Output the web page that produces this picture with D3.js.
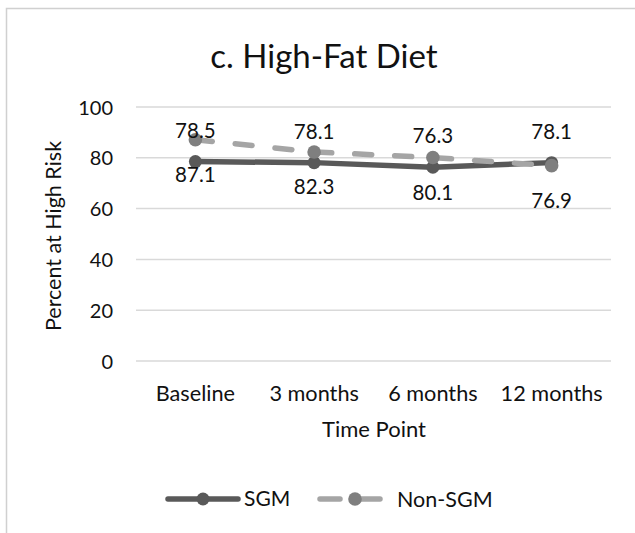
<!DOCTYPE html>
<html><head><meta charset="utf-8">
<script src="https://cdn.jsdelivr.net/npm/d3@7"></script>
<style>body{margin:0;background:#fff}svg{display:block}text{font-family:Lato,"Open Sans",sans-serif;fill:#111}</style>
</head><body>
<script>
const categories = ["Baseline", "3 months", "6 months", "12 months"];
const sgmValues = [78.5, 78.1, 76.3, 78.1];
const nonSgmValues = [87.1, 82.3, 80.1, 76.9];
const yTicks = [0, 20, 40, 60, 80, 100];
const titleText = "c. High-Fat Diet";
const xTitle = "Time Point";
const yTitle = "Percent at High Risk";

const W = 635, H = 533;
const svg = d3.select("body").append("svg").attr("width", W).attr("height", H);
svg.append("rect").attr("x", 6.5).attr("y", 8.5).attr("width", W).attr("height", H)
  .attr("fill", "#fff").attr("stroke", "#d0d0d0").attr("stroke-width", 1.5);

const x = d3.scaleBand().domain(categories).range([136, 611]);
const y = d3.scaleLinear().domain([0, 100]).range([361, 107]);

// gridlines
svg.append("g").selectAll("line").data(yTicks).join("line")
  .attr("x1", 136).attr("x2", 611)
  .attr("y1", d => y(d)).attr("y2", d => y(d))
  .attr("stroke", "#d9d9d9").attr("stroke-width", 1.5);

// y axis labels
const yAxis = d3.axisLeft(y).tickValues(yTicks).tickSize(0).tickPadding(0);
const gy = svg.append("g").attr("transform", "translate(113,0)").call(yAxis);
gy.select(".domain").remove();
gy.selectAll("text").style("font-size", "20px").style("font-family", "Lato").attr("fill", "#111").attr("dy", "0.35em");

// x axis labels
const xAxis = d3.axisBottom(x).tickSize(0).tickPadding(0);
const gx = svg.append("g").attr("transform", "translate(0,393)").call(xAxis);
gx.select(".domain").remove();
gx.selectAll("text").style("font-size", "21.7px").style("font-family", "Lato").attr("fill", "#111").attr("dy", "0.35em");

// titles
svg.append("text").attr("x", 324).attr("y", 56.5).attr("dy", "0.35em").attr("text-anchor", "middle")
  .style("font-size", "33px").text(titleText);
svg.append("text").attr("x", 374).attr("y", 429).attr("dy", "0.35em").attr("text-anchor", "middle")
  .style("font-size", "22px").text(xTitle);
svg.append("text").attr("transform", "translate(53,236) rotate(-90)").attr("dy", "0.35em")
  .attr("text-anchor", "middle").style("font-size", "21.5px").text(yTitle);

const cx = d => x(d) + x.bandwidth() / 2;
const line = d3.line().x((d, i) => cx(categories[i])).y(d => y(d));

// SGM series
svg.append("path").datum(sgmValues).attr("d", line).attr("fill", "none")
  .attr("stroke", "#595959").attr("stroke-width", 5.5).attr("stroke-linejoin", "round").attr("stroke-linecap", "round");
svg.append("g").selectAll("circle").data(sgmValues).join("circle")
  .attr("cx", (d, i) => cx(categories[i])).attr("cy", d => y(d)).attr("r", 6.5).attr("fill", "#595959");

// Non-SGM series
svg.append("path").datum(nonSgmValues).attr("d", line).attr("fill", "none")
  .attr("stroke", "#a5a5a5").attr("stroke-width", 5.5).attr("stroke-dasharray", "17,23").attr("stroke-linecap", "round");
svg.append("g").selectAll("circle").data(nonSgmValues).join("circle")
  .attr("cx", (d, i) => cx(categories[i])).attr("cy", d => y(d)).attr("r", 6.8).attr("fill", "#7f7f7f");

// data labels
svg.append("g").selectAll("text").data(sgmValues).join("text")
  .attr("x", (d, i) => cx(categories[i])).attr("y", d => y(d) - 31).attr("dy", "0.35em")
  .attr("text-anchor", "middle").style("font-size", "20.5px").text(d => d.toFixed(1));
svg.append("g").selectAll("text").data(nonSgmValues).join("text")
  .attr("x", (d, i) => cx(categories[i])).attr("y", d => y(d) + 35).attr("dy", "0.35em")
  .attr("text-anchor", "middle").style("font-size", "20.5px").text(d => d.toFixed(1));

// legend
const lg = svg.append("g").attr("transform", "translate(0,499)");
lg.append("line").attr("x1", 168).attr("x2", 238).attr("stroke", "#595959").attr("stroke-width", 5.5).attr("stroke-linecap", "round");
lg.append("circle").attr("cx", 203).attr("r", 6.5).attr("fill", "#595959");
lg.append("text").attr("x", 244).attr("dy", "0.35em").style("font-size", "21px").text("SGM");
lg.append("line").attr("x1", 320).attr("x2", 340).attr("stroke", "#a5a5a5").attr("stroke-width", 5.5).attr("stroke-linecap", "round");
lg.append("line").attr("x1", 360).attr("x2", 380).attr("stroke", "#a5a5a5").attr("stroke-width", 5.5).attr("stroke-linecap", "round");
lg.append("circle").attr("cx", 355).attr("r", 6.8).attr("fill", "#7f7f7f");
lg.append("text").attr("x", 397).attr("dy", "0.35em").style("font-size", "21.5px").text("Non-SGM");
</script>
</body></html>
